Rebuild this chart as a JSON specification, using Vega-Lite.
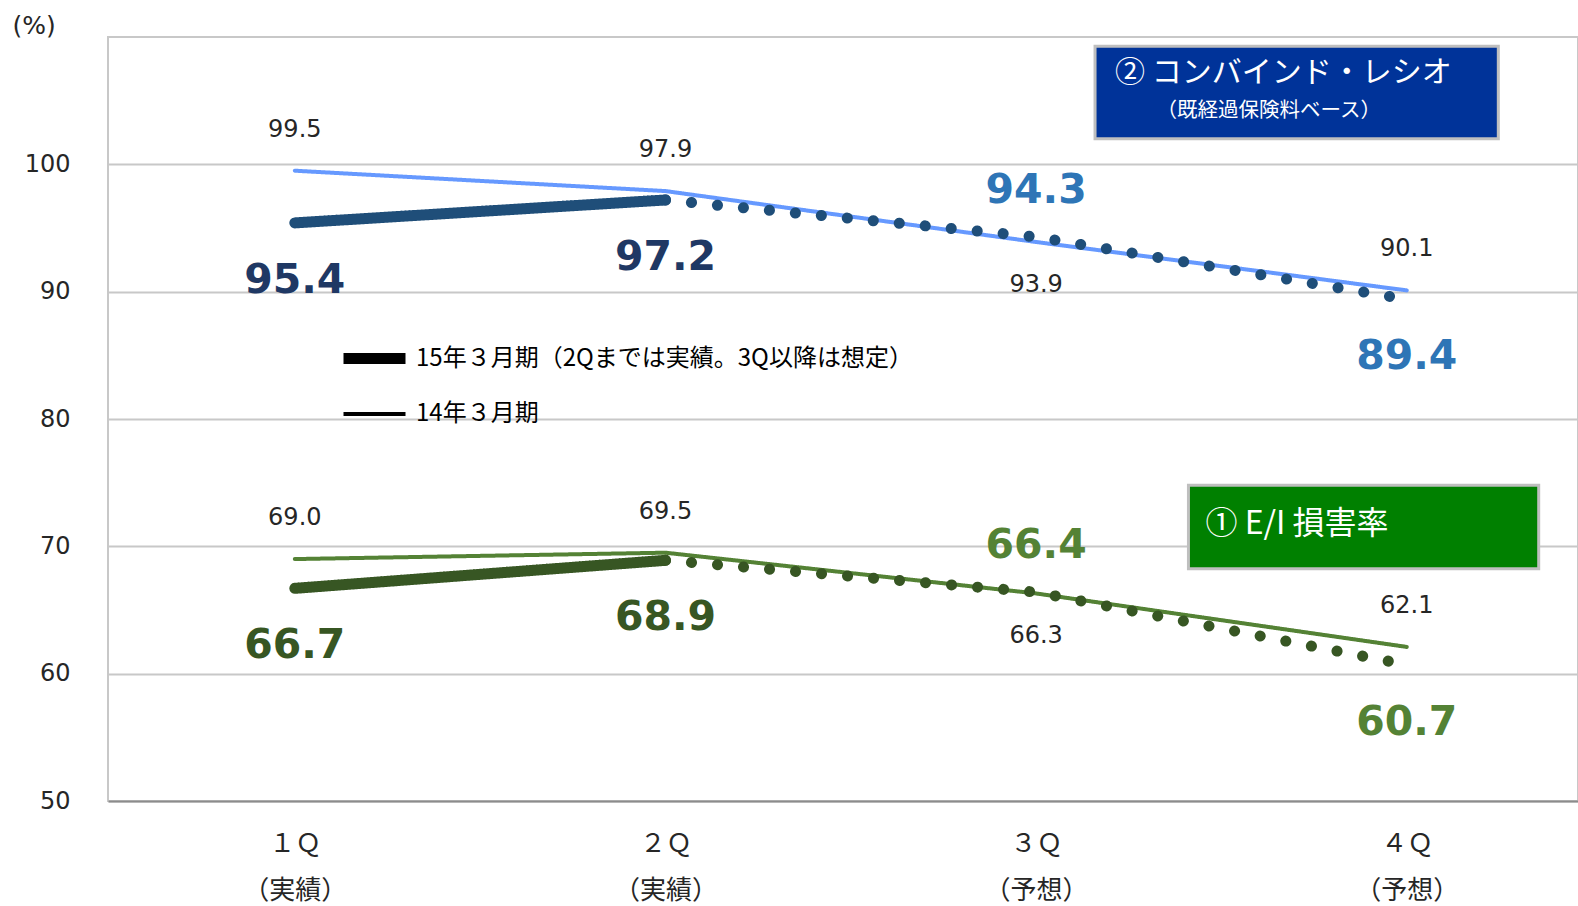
{
  "$schema": "https://vega.github.io/schema/vega-lite/v6.json",
  "width": 1470,
  "height": 764,
  "autosize": {"type": "none"},
  "padding": {"left": 108, "top": 37, "right": 0, "bottom": 105},
  "background": "white",
  "config": {"view": {"stroke": "#c8c8c8", "strokeWidth": 2}, "font": "DejaVu Sans"},
  "datasets": {
    "lines": [
      {"metric": "CR", "period": "14", "series": "CR14", "seg": "solid", "q": 1, "v": 99.5},
      {"metric": "CR", "period": "14", "series": "CR14", "seg": "solid", "q": 2, "v": 97.9},
      {"metric": "CR", "period": "14", "series": "CR14", "seg": "solid", "q": 3, "v": 93.9},
      {"metric": "CR", "period": "14", "series": "CR14", "seg": "solid", "q": 4, "v": 90.1},
      {"metric": "CR", "period": "15", "series": "CR15", "seg": "solid", "q": 1, "v": 95.4},
      {"metric": "CR", "period": "15", "series": "CR15", "seg": "solid", "q": 2, "v": 97.2},
      {"metric": "CR", "period": "15", "series": "CR15", "seg": "dotted", "q": 2, "v": 97.2},
      {"metric": "CR", "period": "15", "series": "CR15", "seg": "dotted", "q": 3, "v": 94.3},
      {"metric": "CR", "period": "15", "series": "CR15", "seg": "dotted", "q": 4, "v": 89.4},
      {"metric": "EI", "period": "14", "series": "EI14", "seg": "solid", "q": 1, "v": 69.0},
      {"metric": "EI", "period": "14", "series": "EI14", "seg": "solid", "q": 2, "v": 69.5},
      {"metric": "EI", "period": "14", "series": "EI14", "seg": "solid", "q": 3, "v": 66.3},
      {"metric": "EI", "period": "14", "series": "EI14", "seg": "solid", "q": 4, "v": 62.1},
      {"metric": "EI", "period": "15", "series": "EI15", "seg": "solid", "q": 1, "v": 66.7},
      {"metric": "EI", "period": "15", "series": "EI15", "seg": "solid", "q": 2, "v": 68.9},
      {"metric": "EI", "period": "15", "series": "EI15", "seg": "dotted", "q": 2, "v": 68.9},
      {"metric": "EI", "period": "15", "series": "EI15", "seg": "dotted", "q": 3, "v": 66.4},
      {"metric": "EI", "period": "15", "series": "EI15", "seg": "dotted", "q": 4, "v": 60.7}
    ],
    "boxes": [
      {"box": "CR", "q": 3.159, "q2": 4.247, "v": 109.27, "v2": 102.0},
      {"box": "EI", "q": 3.411, "q2": 4.356, "v": 74.8, "v2": 68.24}
    ],
    "notes": [
      {"note": "② コンバインド・レシオ", "kind": "title", "q": 3.213, "v": 107.21},
      {"note": "（既経過保険料ベース）", "kind": "sub", "q": 3.325, "v": 104.21},
      {"note": "① E/I 損害率", "kind": "title2", "q": 3.457, "v": 71.72}
    ]
  },
  "encoding": {
    "x": {
      "field": "q", "type": "quantitative",
      "scale": {"domain": [0.496, 4.462], "nice": false, "zero": false},
      "axis": {
        "title": null, "values": [1, 2, 3, 4], "grid": false, "ticks": false,
        "domainColor": "#8c8c8c", "domainWidth": 2,
        "labelFont": "Noto Sans CJK JP", "labelFontSize": 26, "labelColor": "#262626",
        "labelPadding": 29, "labelLineHeight": 47, "labelBaseline": "top", "labelFlush": false,
        "labelDx": 4,
        "labelExpr": "datum.value == 1 ? ['１Ｑ', '（実績）'] : datum.value == 2 ? ['２Ｑ', '（実績）'] : datum.value == 3 ? ['３Ｑ', '（予想）'] : ['４Ｑ', '（予想）']"
      }
    },
    "y": {
      "field": "v", "type": "quantitative",
      "scale": {"domain": [50, 110], "nice": false, "zero": false},
      "axis": {
        "title": "(%)", "titleAngle": 0, "titleAlign": "left", "titleBaseline": "middle",
        "titleX": -96, "titleY": -12, "titleFont": "DejaVu Sans", "titleFontSize": 25,
        "titleFontWeight": "normal", "titleColor": "#262626",
        "values": [50, 60, 70, 80, 90, 100], "grid": true, "gridColor": "#c8c8c8", "gridWidth": 2,
        "ticks": false, "domain": false, "labelFont": "DejaVu Sans", "labelFontSize": 24,
        "labelColor": "#262626", "labelPadding": 38
      }
    }
  },
  "layer": [
    {
      "data": {"name": "boxes"},
      "mark": {"type": "rect", "stroke": "#bfbfbf", "strokeWidth": 3},
      "encoding": {
        "x2": {"field": "q2"},
        "y2": {"field": "v2"},
        "fill": {"condition": {"test": "datum.box == 'CR'", "value": "#003399"}, "value": "#008000"}
      }
    },
    {
      "data": {"name": "notes"},
      "transform": [{"filter": "datum.kind == 'title'"}],
      "mark": {"type": "text", "align": "left", "baseline": "middle", "font": "Noto Sans CJK JP", "color": "white", "fontSize": 30},
      "encoding": {"text": {"field": "note"}}
    },
    {
      "data": {"name": "notes"},
      "transform": [{"filter": "datum.kind == 'title2'"}],
      "mark": {"type": "text", "align": "left", "baseline": "middle", "font": "Noto Sans CJK JP", "color": "white", "fontSize": 32},
      "encoding": {"text": {"field": "note"}}
    },
    {
      "data": {"name": "notes"},
      "transform": [{"filter": "datum.kind == 'sub'"}],
      "mark": {"type": "text", "align": "left", "baseline": "middle", "font": "Noto Sans CJK JP", "color": "white", "fontSize": 20.5},
      "encoding": {"text": {"field": "note"}}
    },
    {
      "data": {"name": "lines"},
      "transform": [{"filter": "datum.period == '14'"}],
      "mark": {"type": "line", "strokeCap": "round", "strokeJoin": "round"},
      "encoding": {
        "color": {"field": "series", "type": "nominal", "scale": {"domain": ["CR14", "CR15", "EI14", "EI15"], "range": ["#6699FF", "#1F4E79", "#548235", "#375623"]}, "legend": null},
        "strokeDash": {"field": "seg", "type": "nominal", "scale": {"domain": ["solid", "dotted"], "range": [[1, 0], [0.1, 26]]}, "legend": null},
        "strokeWidth": {
          "field": "period", "type": "nominal",
          "scale": {"domain": ["15", "14"], "range": [11, 4]},
          "legend": {
            "title": null, "orient": "none", "legendX": 230, "legendY": 285, "direction": "vertical",
            "symbolType": "stroke", "symbolSize": 3844, "symbolStrokeColor": "black",
            "labelFont": "Noto Sans CJK JP", "labelFontSize": 24, "labelColor": "#000000",
            "labelOffset": 5, "rowPadding": 0, "padding": 0, "labelLimit": 0,
            "labelExpr": "datum.value == '15' ? '15年３月期（2Qまでは実績。3Q以降は想定）' : '14年３月期'"
          }
        }
      }
    },
    {
      "data": {"name": "lines"},
      "transform": [{"filter": "datum.period == '15'"}],
      "mark": {"type": "line", "strokeCap": "round", "strokeJoin": "round"},
      "encoding": {
        "color": {"field": "series", "type": "nominal", "scale": {"domain": ["CR14", "CR15", "EI14", "EI15"], "range": ["#6699FF", "#1F4E79", "#548235", "#375623"]}, "legend": null},
        "strokeDash": {"field": "seg", "type": "nominal", "scale": {"domain": ["solid", "dotted"], "range": [[1, 0], [0.1, 26]]}, "legend": null},
        "strokeWidth": {
          "field": "period", "type": "nominal",
          "scale": {"domain": ["15", "14"], "range": [11, 4]},
          "legend": {
            "title": null, "orient": "none", "legendX": 230, "legendY": 285, "direction": "vertical",
            "symbolType": "stroke", "symbolSize": 3844, "symbolStrokeColor": "black",
            "labelFont": "Noto Sans CJK JP", "labelFontSize": 24, "labelColor": "#000000",
            "labelOffset": 5, "rowPadding": 0, "padding": 0, "labelLimit": 0,
            "labelExpr": "datum.value == '15' ? '15年３月期（2Qまでは実績。3Q以降は想定）' : '14年３月期'"
          }
        }
      }
    },
    {
      "data": {"name": "lines"},
      "transform": [{"filter": "datum.period == '14' && datum.q != 3"}],
      "mark": {"type": "text", "baseline": "middle", "dy": -41, "fontSize": 24, "font": "DejaVu Sans", "color": "#262626"},
      "encoding": {"text": {"field": "v", "type": "quantitative", "format": ".1f"}}
    },
    {
      "data": {"name": "lines"},
      "transform": [{"filter": "datum.period == '14' && datum.q == 3"}],
      "mark": {"type": "text", "baseline": "middle", "dy": 43, "fontSize": 24, "font": "DejaVu Sans", "color": "#262626"},
      "encoding": {"text": {"field": "v", "type": "quantitative", "format": ".1f"}}
    },
    {
      "data": {"name": "lines"},
      "transform": [{"filter": "datum.period == '15' && datum.q == 3"}],
      "mark": {"type": "text", "baseline": "middle", "dy": -46, "fontSize": 41, "fontWeight": "bold", "font": "DejaVu Sans"},
      "encoding": {
        "text": {"field": "v", "type": "quantitative", "format": ".1f"},
        "color": {"condition": {"test": "datum.metric == 'CR'", "value": "#2E75B6"}, "value": "#548235"}
      }
    },
    {
      "data": {"name": "lines"},
      "transform": [{"filter": "datum.period == '15' && datum.q != 3 && !(datum.seg == 'dotted' && datum.q == 2)"}],
      "mark": {"type": "text", "baseline": "middle", "dy": 58, "fontSize": 41, "fontWeight": "bold", "font": "DejaVu Sans"},
      "encoding": {
        "text": {"field": "v", "type": "quantitative", "format": ".1f"},
        "color": {
          "condition": [
            {"test": "datum.metric == 'CR' && datum.q <= 2", "value": "#1F3864"},
            {"test": "datum.metric == 'CR'", "value": "#2E75B6"},
            {"test": "datum.q <= 2", "value": "#375623"}
          ],
          "value": "#548235"
        }
      }
    }
  ]
}
